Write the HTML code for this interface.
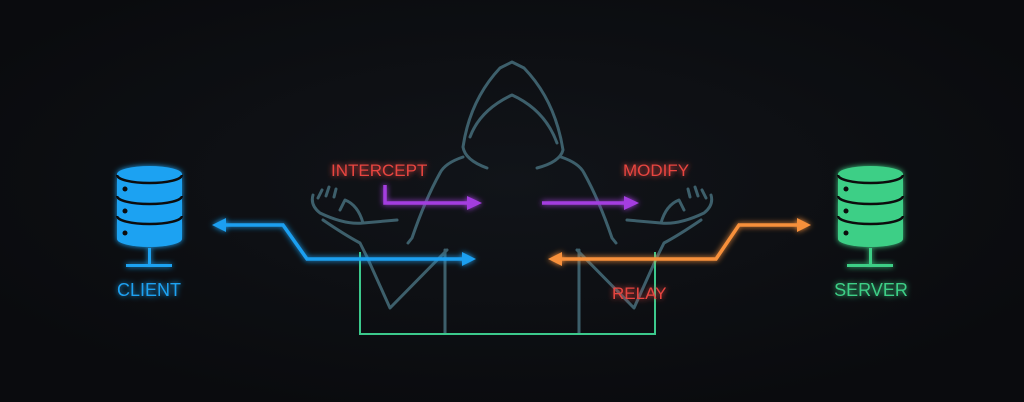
<!DOCTYPE html>
<html><head><style>
html,body{margin:0;padding:0;background:#0b0d10;}
svg{display:block}
text{font-family:"Liberation Sans",sans-serif;}
</style></head><body>
<svg width="1024" height="402" viewBox="0 0 1024 402" xmlns="http://www.w3.org/2000/svg">
<defs>
<filter id="g" x="-50%" y="-50%" width="200%" height="200%"><feGaussianBlur stdDeviation="3" result="b"/><feMerge><feMergeNode in="b"/><feMergeNode in="SourceGraphic"/></feMerge></filter>
<radialGradient id="bg" cx="50%" cy="45%" r="60%"><stop offset="0" stop-color="#111419"/><stop offset="1" stop-color="#0a0b0e"/></radialGradient>
</defs>
<rect width="1024" height="402" fill="url(#bg)"/>
<!-- hooded figure -->
<g fill="none" stroke="#3d5f6b" stroke-width="3" stroke-linejoin="round" stroke-linecap="round">
<path d="M487,168 Q465,160 463,147 Q470,100 500,68 L512,62 L524,68 Q555,100 563,150 Q560,162 537,168"/>
<path d="M470,137 Q480,110 512,95 Q545,110 557,143"/>
<path d="M463,157 Q445,163 440,173 Q425,200 412,238 L408,243"/>
<path d="M561,157 Q579,163 584,173 Q599,200 612,238 L616,243"/>
<path d="M397,220 L363,223 Q358,205 345,200 L340,210 M363,223 Q345,225 320,213 Q310,205 313,195 M323,220 Q345,235 360,243 L367,257 L390,308 L447,250 M445,250 L445,333"/>
<path d="M627,220 L661,223 Q666,205 679,200 L684,210 M661,223 Q679,225 704,213 Q714,205 711,195 M701,220 Q679,235 664,243 L657,257 L634,308 L577,250 M579,250 L579,333"/>
<path d="M318,198 l4,-8 M326,196 l3,-9 M334,197 l2,-8 M706,198 l-4,-8 M698,196 l-3,-9 M690,197 l-2,-8"/>
</g>
<!-- green bracket -->
<path d="M360,252 V334 H655 V252" fill="none" stroke="#3cc98c" stroke-width="2"/>
<!-- blue arrow -->
<g filter="url(#g)">
<path d="M224,225 H283 L307,259 H463" fill="none" stroke="#1a9ff0" stroke-width="3.5"/>
<path d="M212,225 L226,218 L226,232 Z" fill="#1a9ff0"/>
<path d="M476,259 L462,252 L462,266 Z" fill="#1a9ff0"/>
</g>
<!-- purple -->
<g filter="url(#g)">
<path d="M385,185 V203 H469 M542,203 H626" fill="none" stroke="#a43ee0" stroke-width="3.5"/>
<path d="M482,203 L467,196 L467,210 Z M639,203 L624,196 L624,210 Z" fill="#a43ee0"/>
</g>
<!-- orange -->
<g filter="url(#g)">
<path d="M560,259 H716 L739,225 H798" fill="none" stroke="#f7903a" stroke-width="3.5"/>
<path d="M548,259 L562,252 L562,266 Z M811,225 L797,218 L797,232 Z" fill="#f7903a"/>
</g>
<!-- labels -->
<g fill="#e8453f" font-size="17" filter="url(#g)">
<text x="331" y="176">INTERCEPT</text>
<text x="623" y="176">MODIFY</text>
<text x="612" y="299">RELAY</text>
</g>
<!-- client db -->
<g filter="url(#g)">
<path d="M117,174 A32.5,8 0 0 1 182,174 V239 A32.5,8 0 0 1 117,239 Z" fill="#1fa2f2"/>
<g fill="none" stroke="#0b0d10" stroke-width="2.5">
<path d="M117,175 A32.5,8 0 0 0 182,175"/>
<path d="M117,196 A32.5,8 0 0 0 182,196"/>
<path d="M117,216 A32.5,8 0 0 0 182,216"/>
</g>
<g fill="#0b0d10"><circle cx="125" cy="189" r="2.5"/><circle cx="125" cy="211" r="2.5"/><circle cx="125" cy="233" r="2.5"/></g>
<g fill="#1fa2f2"><rect x="148" y="248" width="3" height="17"/><rect x="126" y="264" width="46" height="3"/>
<text x="149" y="296" font-size="18" text-anchor="middle">CLIENT</text></g>
</g>
<!-- server db -->
<g filter="url(#g)">
<path d="M838,174 A32.5,8 0 0 1 903,174 V239 A32.5,8 0 0 1 838,239 Z" fill="#3ecf86"/>
<g fill="none" stroke="#0b0d10" stroke-width="2.5">
<path d="M838,175 A32.5,8 0 0 0 903,175"/>
<path d="M838,196 A32.5,8 0 0 0 903,196"/>
<path d="M838,216 A32.5,8 0 0 0 903,216"/>
</g>
<g fill="#0b0d10"><circle cx="846" cy="189" r="2.5"/><circle cx="846" cy="211" r="2.5"/><circle cx="846" cy="233" r="2.5"/></g>
<g fill="#3ecf86"><rect x="869" y="248" width="3" height="17"/><rect x="847" y="264" width="46" height="3"/>
<text x="871" y="296" font-size="18" text-anchor="middle">SERVER</text></g>
</g>
</svg>
</body></html>
